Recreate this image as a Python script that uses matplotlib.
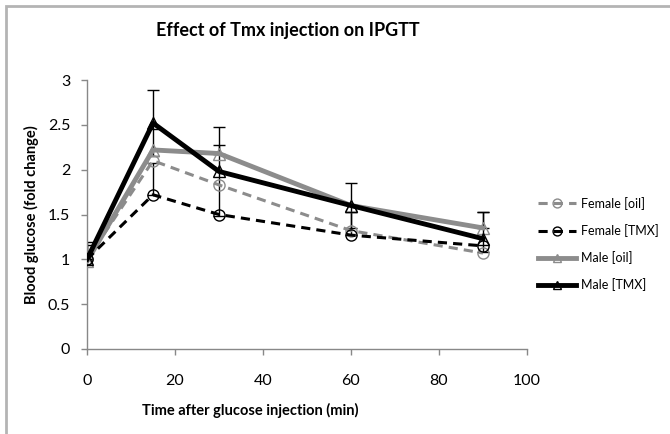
import numpy as np
import matplotlib
matplotlib.use("Agg")
from matplotlib import pyplot as plt
from matplotlib.patches import Rectangle

# data
time_min = [0, 15, 30, 60, 90]
female_oil = [1.00, 2.10, 1.83, 1.32, 1.07]
female_tmx = [1.00, 1.72, 1.50, 1.27, 1.15]
male_oil = [0.98, 2.22, 2.18, 1.60, 1.35]
male_tmx = [1.00, 2.52, 1.98, 1.60, 1.23]

# error bars (black, thin)
male_tmx_err_up = [0.19, 0.37, 0.50, 0.25, 0.30]
male_tmx_err_down = [0.0, 0.37, 0.50, 0.25, 0.15]
female_tmx_err_up = [0.16, 0.35, 0.0, 0.26, 0.0]
male_oil_err_up = [0.0, 0.0, 0.10, 0.0, 0.18]

plt.rcParams['font.family'] = ['Lato', 'DejaVu Sans']

fig = plt.figure(figsize=(6.7, 4.34), dpi=100)
ax = fig.add_axes([87 / 670, 85 / 434, 440 / 670, 269 / 434])

# outer frame of the chart area
fig.patches.append(Rectangle((6 / 670, -0.05), 1.0, 1.05 - 6 / 434,
                             transform=fig.transFigure, fill=False,
                             edgecolor='#b4b4b4', linewidth=2.0))

grey = '#8c8c8c'

ax.errorbar(time_min, male_tmx, yerr=[male_tmx_err_down, male_tmx_err_up], fmt='none',
            ecolor='black', elinewidth=1.0, capsize=4, capthick=1.0, zorder=2)
idx = [i for i, e in enumerate(female_tmx_err_up) if e > 0]
ax.errorbar([time_min[i] for i in idx], [female_tmx[i] for i in idx],
            yerr=[[0] * len(idx), [female_tmx_err_up[i] for i in idx]],
            fmt='none', ecolor='black', elinewidth=1.0, capsize=4, capthick=1.0, zorder=2)
idx = [i for i, e in enumerate(male_oil_err_up) if e > 0]
ax.errorbar([time_min[i] for i in idx], [male_oil[i] for i in idx],
            yerr=[[0] * len(idx), [male_oil_err_up[i] for i in idx]],
            fmt='none', ecolor='black', elinewidth=1.0, capsize=4, capthick=1.0, zorder=2)

ax.plot(time_min, female_oil, color=grey, linestyle=(0, (3, 2)), linewidth=2.2,
        marker='o', markersize=8, markerfacecolor='none', markeredgecolor=grey,
        markeredgewidth=1.0, label='Female [oil]', zorder=3)
ax.plot(time_min, female_tmx, color='black', linestyle=(0, (3, 2)), linewidth=2.2,
        marker='o', markersize=8, markerfacecolor='none', markeredgecolor='black',
        markeredgewidth=1.0, label='Female [TMX]', zorder=4)
ax.plot(time_min, male_oil, color=grey, linestyle='-', linewidth=3.5,
        marker='^', markersize=8, markerfacecolor='none', markeredgecolor=grey,
        markeredgewidth=1.0, label='Male [oil]', zorder=3)
ax.plot(time_min, male_tmx, color='black', linestyle='-', linewidth=3.5,
        marker='^', markersize=8, markerfacecolor='none', markeredgecolor='black',
        markeredgewidth=1.0, label='Male [TMX]', zorder=5)

ax.set_xlim(0, 100)
ax.set_ylim(0, 3)
ax.set_xticks([0, 20, 40, 60, 80, 100])
ax.set_yticks([0, 0.5, 1, 1.5, 2, 2.5, 3])
ax.set_yticklabels(['0', '0.5', '1', '1.5', '2', '2.5', '3'])

for s in ['top', 'right']:
    ax.spines[s].set_visible(False)
for s in ['left', 'bottom']:
    ax.spines[s].set_color('#888888')
    ax.spines[s].set_linewidth(1.0)
ax.tick_params(axis='both', direction='out', length=4, color='#888888',
               labelsize=11.5, width=1.0)
ax.tick_params(axis='x', pad=14)
ax.tick_params(axis='y', pad=8)

ax.set_xlabel('Time after glucose injection (min)', fontsize=10.5,
              fontweight='bold')
ax.xaxis.set_label_coords(0.37, -0.2)
ax.set_ylabel('Blood glucose (fold change)', fontsize=10.5, fontweight='bold')
ax.yaxis.set_label_coords(-0.11, 0.5)

fig.text(0.43, 0.93, 'Effect of Tmx injection on IPGTT', fontsize=13,
         fontweight='bold', ha='center', va='center')

ax.legend(loc='center left', bbox_to_anchor=(1.0, 0.39), frameon=False,
          fontsize=9, handlelength=3.0, handletextpad=0.4, labelspacing=1.15,
          borderaxespad=0.5, markerscale=0.8)

fig.savefig('out.png', dpi=100)
